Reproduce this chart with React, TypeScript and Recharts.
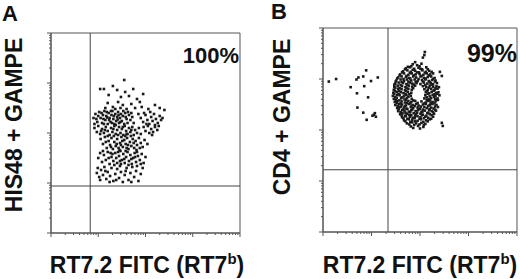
import React from 'react';
import { ScatterChart, Scatter, XAxis, YAxis, ReferenceLine, ReferenceArea } from 'recharts';

// values in log10 decades (axis spans 10^0 .. 10^4)
const his48Points: [number, number][] = [
  [1.04,2.88],[1.12,2.88],[1.31,2.94],[1.55,3.06],[1.40,2.86],[1.57,2.82],[1.74,2.88],[1.95,2.78],[1.82,2.68],[1.48,2.72],[1.22,2.76],[1.65,2.74],
  [1.20,2.60],[1.31,2.52],[1.42,2.62],[1.52,2.56],[1.60,2.48],[1.70,2.58],[1.78,2.50],[1.88,2.62],[2.20,2.56],[2.40,2.46],[2.30,2.50],[1.36,2.48],[1.47,2.50],[1.92,2.52],[2.06,2.48],[1.15,2.50],
  [0.90,2.30],[0.94,2.38],[0.98,2.22],[1.02,2.42],[1.05,2.30],[1.08,2.20],[1.10,2.36],[1.13,2.44],[1.15,2.26],[1.17,2.34],[1.20,2.18],[1.22,2.40],[1.24,2.30],[1.26,2.22],[1.28,2.36],[1.30,2.44],[1.32,2.28],[1.34,2.18],[1.36,2.38],[1.38,2.24],[1.40,2.32],[1.42,2.42],[1.44,2.20],[1.46,2.30],[1.48,2.38],[1.50,2.24],[1.52,2.34],[1.55,2.18],[1.57,2.40],[1.60,2.28],[1.62,2.20],[1.65,2.36],[1.68,2.26],[1.72,2.32],[1.75,2.20],[0.96,2.28],[1.00,2.34],[1.07,2.40],[1.12,2.18],[1.18,2.42],[1.23,2.26],[1.27,2.44],[1.33,2.34],[1.37,2.16],[1.43,2.36],[1.47,2.22],[1.53,2.44],[1.58,2.32],[1.63,2.42],[1.70,2.40],[0.92,2.18],[1.11,2.28],[1.29,2.20],[1.41,2.27],[1.19,2.31],
  [1.90,2.30],[1.95,2.22],[2.00,2.36],[2.04,2.26],[2.08,2.18],[2.12,2.32],[2.15,2.24],[2.18,2.38],[2.22,2.28],[2.26,2.20],[2.30,2.34],[2.33,2.26],[1.97,2.40],[2.10,2.42],[2.20,2.16],[2.02,2.18],[2.36,2.30],[1.85,2.38],
  [0.92,2.10],[0.97,2.02],[1.00,2.14],[1.04,1.98],[1.08,2.08],[1.12,2.00],[1.16,2.12],[1.20,2.04],[1.24,1.96],[1.27,2.10],[1.30,2.02],[1.34,2.14],[1.37,1.98],[1.40,2.06],[1.44,2.12],[1.47,2.00],[1.50,2.08],[1.53,1.96],[1.56,2.14],[1.59,2.04],[1.62,1.98],[1.65,2.10],[1.68,2.02],[1.72,2.12],[1.75,1.96],[1.78,2.06],[1.82,2.00],[1.86,2.10],[1.90,1.98],[1.14,2.06],[1.32,2.08],[1.42,1.96],[1.52,2.12],[1.60,1.98],[1.70,2.06],[1.06,2.04],
  [1.96,2.12],[2.00,2.04],[2.05,2.14],[2.08,2.00],[2.12,2.08],[2.16,2.02],[2.20,2.12],[2.25,2.06],[2.14,1.96],[2.28,2.14],
  [1.05,1.88],[1.10,1.78],[1.14,1.92],[1.18,1.70],[1.22,1.84],[1.25,1.76],[1.28,1.90],[1.31,1.68],[1.34,1.82],[1.37,1.74],[1.40,1.88],[1.43,1.70],[1.46,1.80],[1.49,1.92],[1.52,1.72],[1.55,1.86],[1.58,1.78],[1.61,1.90],[1.64,1.68],[1.67,1.82],[1.70,1.74],[1.73,1.88],[1.76,1.70],[1.79,1.84],[1.82,1.76],[1.86,1.90],[1.90,1.80],[1.94,1.72],[1.98,1.86],[2.04,1.78],[1.20,1.94],[1.33,1.94],[1.45,1.66],[1.57,1.94],[1.69,1.94],[1.81,1.66],[1.39,1.78],[1.51,1.84],[1.63,1.76],[1.75,1.80],[1.27,1.72],[1.88,1.70],[1.60,1.70],[1.48,1.76],[1.16,1.82],
  [1.00,1.50],[1.04,1.60],[1.08,1.42],[1.12,1.56],[1.16,1.46],[1.20,1.62],[1.24,1.38],[1.28,1.52],[1.32,1.44],[1.36,1.60],[1.40,1.40],[1.44,1.54],[1.47,1.64],[1.50,1.46],[1.53,1.58],[1.56,1.40],[1.59,1.52],[1.62,1.62],[1.65,1.44],[1.68,1.56],[1.71,1.38],[1.74,1.50],[1.77,1.60],[1.80,1.42],[1.84,1.54],[1.88,1.46],[1.92,1.58],[1.96,1.40],[2.00,1.52],[1.10,1.64],[1.26,1.60],[1.38,1.50],[1.48,1.38],[1.58,1.64],[1.70,1.48],[1.82,1.62],[1.34,1.36],[1.64,1.36],[1.42,1.62],[1.55,1.48],[1.78,1.52],[1.22,1.50],[1.90,1.38],[1.46,1.44],[1.30,1.58],
  [0.97,1.20],[0.99,1.30],[1.02,1.12],[1.06,1.26],[1.10,1.16],[1.13,1.32],[1.17,1.08],[1.20,1.22],[1.25,1.14],[1.28,1.30],[1.32,1.04],[1.36,1.18],[1.40,1.28],[1.44,1.10],[1.48,1.22],[1.52,1.02],[1.56,1.16],[1.60,1.30],[1.64,1.06],[1.68,1.20],[1.72,1.32],[1.76,1.12],[1.80,1.24],[1.85,1.04],[1.90,1.18],[1.94,1.30],[1.15,1.24],[1.38,1.06],[1.58,1.24],[1.70,1.02],[1.46,1.34],[1.04,1.06],[1.24,1.02],[1.82,1.34],
];

const cd4NegPoints: [number, number][] = [
  [0.12,2.95],[0.27,3.00],[0.57,2.84],[0.69,2.99],[0.73,3.03],[0.83,3.05],[0.89,3.17],[0.99,2.96],[1.13,3.03],[0.85,2.86],
  [0.70,2.72],[0.93,2.64],[0.71,2.44],[0.83,2.34],[0.90,2.20],[1.02,2.28],[1.07,2.33],[1.09,2.26],[1.05,2.30],
];

const cd4Points: [number, number][] = [
  [2.10,3.53],[2.09,3.47],[2.06,3.42],[1.90,3.33],[1.75,3.24],[2.41,3.14],[2.45,3.06],[2.39,2.84],[2.37,2.59],[2.45,2.14],[2.47,2.08],
  [1.85,3.29],[1.94,3.27],[2.03,3.30],
  [1.71,3.21],[1.79,3.23],[1.88,3.20],[1.97,3.22],[2.04,3.19],[2.13,3.23],
  [1.65,3.15],[1.74,3.17],[1.81,3.14],[1.90,3.16],[1.98,3.13],[2.05,3.17],[2.12,3.14],[2.19,3.16],
  [1.59,3.09],[1.67,3.11],[1.76,3.08],[1.83,3.11],[1.91,3.09],[1.99,3.10],[2.07,3.08],[2.14,3.11],[2.21,3.09],[2.27,3.11],
  [1.55,3.03],[1.62,3.05],[1.71,3.04],[1.77,3.02],[1.86,3.05],[1.92,3.03],[2.01,3.05],[2.08,3.02],[2.16,3.04],[2.23,3.05],[2.30,3.02],
  [1.51,2.97],[1.60,2.99],[1.67,2.96],[1.73,2.99],[1.82,2.97],[1.89,2.99],[1.95,2.96],[2.04,2.98],[2.11,2.99],[2.18,2.96],[2.25,2.98],[2.32,2.97],
  [1.49,2.91],[1.56,2.93],[1.65,2.92],[1.72,2.90],[1.79,2.93],[1.84,2.91],[1.93,2.92],[2.01,2.90],[2.08,2.93],[2.15,2.91],[2.22,2.92],[2.27,2.90],[2.35,2.92],
  [1.47,2.85],[1.54,2.87],[1.63,2.86],[1.70,2.84],[1.77,2.87],[1.84,2.85],[1.90,2.87],[2.06,2.86],[2.13,2.84],[2.20,2.87],[2.27,2.85],[2.34,2.86],
  [1.46,2.79],[1.55,2.81],[1.62,2.80],[1.69,2.78],[1.76,2.81],[1.83,2.79],[2.09,2.80],[2.16,2.78],[2.23,2.81],[2.30,2.79],[2.36,2.81],
  [1.45,2.73],[1.52,2.75],[1.61,2.74],[1.66,2.72],[1.75,2.75],[1.82,2.73],[2.12,2.74],[2.19,2.72],[2.24,2.75],[2.33,2.73],[2.38,2.74],
  [1.44,2.67],[1.53,2.69],[1.58,2.68],[1.67,2.66],[1.72,2.69],[1.81,2.67],[2.11,2.68],[2.20,2.66],[2.26,2.69],[2.32,2.67],[2.40,2.68],
  [1.46,2.61],[1.52,2.63],[1.61,2.62],[1.68,2.60],[1.73,2.63],[1.83,2.61],[2.09,2.62],[2.18,2.60],[2.23,2.63],[2.31,2.61],[2.36,2.62],
  [1.48,2.55],[1.53,2.57],[1.62,2.56],[1.69,2.54],[1.76,2.57],[1.82,2.55],[1.90,2.57],[2.03,2.56],[2.12,2.54],[2.17,2.57],[2.26,2.55],[2.32,2.56],
  [1.49,2.49],[1.57,2.51],[1.63,2.50],[1.71,2.48],[1.77,2.51],[1.85,2.49],[1.92,2.51],[1.97,2.48],[2.06,2.50],[2.12,2.51],[2.20,2.49],[2.25,2.51],[2.34,2.49],
  [1.53,2.43],[1.58,2.45],[1.67,2.44],[1.72,2.42],[1.81,2.45],[1.86,2.43],[1.95,2.44],[2.00,2.42],[2.09,2.45],[2.14,2.43],[2.23,2.44],[2.28,2.42],[2.37,2.45],
  [1.55,2.37],[1.63,2.39],[1.68,2.38],[1.77,2.36],[1.82,2.39],[1.91,2.37],[1.96,2.39],[2.05,2.36],[2.10,2.38],[2.19,2.39],[2.24,2.37],[2.33,2.38],
  [1.59,2.31],[1.64,2.33],[1.73,2.32],[1.78,2.30],[1.87,2.33],[1.92,2.31],[2.01,2.32],[2.06,2.30],[2.15,2.33],[2.20,2.31],[2.29,2.32],
  [1.63,2.25],[1.71,2.27],[1.79,2.26],[1.85,2.24],[1.95,2.27],[2.01,2.25],[2.11,2.26],[2.17,2.24],[2.27,2.26],
  [1.67,2.19],[1.77,2.21],[1.84,2.20],[1.95,2.18],[2.02,2.21],[2.13,2.19],[2.20,2.21],
  [1.73,2.13],[1.84,2.15],[1.92,2.13],[2.03,2.14],[2.11,2.12],
  [1.81,2.07],[1.96,2.08],[2.07,2.06],
  // interleaved denser events
  [1.82,3.25],[1.99,3.25],
  [1.69,3.19],[1.85,3.18],[2.01,3.20],[2.16,3.19],
  [1.63,3.13],[1.79,3.12],[1.94,3.13],[2.10,3.12],[2.24,3.14],
  [1.58,3.07],[1.72,3.06],[1.87,3.07],[2.03,3.06],[2.18,3.07],
  [1.53,3.01],[1.66,3.00],[1.80,3.01],[1.97,3.00],[2.12,3.01],[2.27,3.00],
  [1.50,2.95],[1.62,2.94],[1.76,2.95],[1.91,2.94],[2.06,2.95],[2.20,2.94],[2.31,2.95],
  [1.47,2.89],[1.60,2.88],[1.74,2.89],[1.87,2.89],[2.11,2.88],[2.25,2.89],
  [1.49,2.83],[1.58,2.82],[1.72,2.83],[1.86,2.82],[2.18,2.83],[2.32,2.82],
  [1.48,2.77],[1.57,2.76],[1.71,2.77],[2.14,2.76],[2.28,2.77],
  [1.47,2.71],[1.56,2.70],[1.70,2.71],[1.78,2.70],[2.16,2.71],[2.30,2.70],[2.36,2.71],
  [1.49,2.65],[1.63,2.64],[1.76,2.65],[2.14,2.64],[2.29,2.65],
  [1.50,2.59],[1.57,2.58],[1.71,2.59],[1.86,2.58],[2.14,2.59],[2.21,2.58],[2.34,2.59],
  [1.52,2.53],[1.60,2.52],[1.73,2.53],[1.80,2.52],[1.95,2.53],[2.09,2.52],[2.22,2.53],[2.30,2.52],
  [1.54,2.47],[1.61,2.46],[1.69,2.47],[1.82,2.46],[1.89,2.47],[2.02,2.46],[2.17,2.47],[2.31,2.46],
  [1.56,2.41],[1.65,2.40],[1.74,2.41],[1.84,2.40],[1.99,2.41],[2.06,2.40],[2.20,2.41],[2.31,2.40],
  [1.60,2.35],[1.70,2.34],[1.80,2.35],[1.94,2.34],[2.03,2.35],[2.17,2.34],[2.27,2.35],
  [1.62,2.29],[1.69,2.28],[1.82,2.29],[1.90,2.28],[2.04,2.29],[2.13,2.28],[2.24,2.29],
  [1.66,2.23],[1.74,2.22],[1.89,2.23],[1.99,2.22],[2.08,2.23],[2.23,2.22],
  [1.70,2.17],[1.80,2.16],[1.90,2.17],[2.07,2.16],[2.16,2.17],
  [1.78,2.11],[1.88,2.10],[1.99,2.11],[2.08,2.10],
  [1.86,2.04],[2.00,2.03],
];

const panelLetters = ['A', 'B'];
const yAxisTitles = ['HIS48 + GAMPE', 'CD4 + GAMPE'];
const xAxisTitle = 'RT7.2 FITC (RT7';
const xAxisSup = 'b';
const percentLabels = ['100%', '99%'];
const gatesX = [0.83, 1.34];
const gatesY = [0.94, 1.22];

const logTicks: number[] = [];
for (let d = 0; d < 4; d++) for (let k = 1; k < 10; k++) logTicks.push(d + Math.log10(k));
logTicks.push(4);

const isMajor = (v: number) => Math.abs(v - Math.round(v)) < 1e-6;

const YTick = (p: any) => {
  const v = p.payload.value;
  const len = isMajor(v) ? 4 : 2;
  return <line x1={p.x - len} x2={p.x} y1={p.y} y2={p.y} stroke="#555" strokeWidth={1} />;
};
const XTick = (p: any) => {
  const v = p.payload.value;
  const len = isMajor(v) ? 4 : 2;
  return <line x1={p.x} x2={p.x} y1={p.y} y2={p.y + len} stroke="#555" strokeWidth={1} />;
};

const Dot = (p: any) => (
  <rect x={p.cx - 1.3} y={p.cy - 1.3} width={2.6} height={2.6} fill="#1a1a1a" />
);

const toData = (pts: [number, number][]) => pts.map(([x, y]) => ({ x, y }));

function Panel(props: { left: number; margin: any; sets: [number, number][][]; gx: number; gy: number }) {
  return (
    <div style={{ position: 'absolute', left: props.left, top: 0 }}>
      <ScatterChart width={250} height={279} margin={props.margin}>
        <XAxis type="number" dataKey="x" domain={[0, 4]} ticks={logTicks} interval={0} tick={<XTick />}
          tickLine={false} tickSize={0} tickMargin={0} height={10} axisLine={{ stroke: '#555' }} allowDataOverflow />
        <YAxis type="number" dataKey="y" domain={[0, 4]} ticks={logTicks} interval={0} tick={<YTick />}
          tickLine={false} tickSize={0} tickMargin={0} width={10} axisLine={{ stroke: '#555' }} allowDataOverflow />
        <ReferenceArea x1={0} x2={4} y1={0} y2={4} fill="none" fillOpacity={0} stroke="#555" strokeWidth={1} />
        <ReferenceLine x={props.gx} stroke="#444" strokeWidth={1} />
        <ReferenceLine y={props.gy} stroke="#444" strokeWidth={1} />
        {props.sets.map((s, i) => (
          <Scatter key={i} data={toData(s)} shape={<Dot />} isAnimationActive={false} />
        ))}
      </ScatterChart>
    </div>
  );
}

export default function App() {
  const font = "'Liberation Sans', Arial, sans-serif";
  return (
    <div style={{ position: 'fixed', left: 0, top: 0, width: 520, height: 279, background: '#fff', overflow: 'hidden' }}>
      <Panel left={0} margin={{ top: 33, right: 10, bottom: 36, left: 41 }} sets={[his48Points]} gx={gatesX[0]} gy={gatesY[0]} />
      <Panel left={270} margin={{ top: 28, right: 3, bottom: 37, left: 43 }} sets={[cd4NegPoints, cd4Points]} gx={gatesX[1]} gy={gatesY[1]} />
      <svg width={520} height={279} style={{ position: 'absolute', left: 0, top: 0, pointerEvents: 'none' }}
        fontFamily={font} fontWeight="bold" fill="#111">
        <text x={2} y={21} fontSize={22}>{panelLetters[0]}</text>
        <text x={271} y={19} fontSize={22}>{panelLetters[1]}</text>
        <text x={239} y={63} fontSize={22} textAnchor="end">{percentLabels[0]}</text>
        <text x={517} y={62} fontSize={25} textAnchor="end">{percentLabels[1]}</text>
        <text transform="translate(22,125) rotate(-90)" fontSize={23} textAnchor="middle">{yAxisTitles[0]}</text>
        <text transform="translate(290,117) rotate(-90)" fontSize={23} textAnchor="middle">{yAxisTitles[1]}</text>
        <text x={147} y={273} fontSize={23} textAnchor="middle">
          {xAxisTitle}<tspan dy={-9} fontSize={15}>{xAxisSup}</tspan><tspan dy={9} fontSize={23}>)</tspan>
        </text>
        <text x={420} y={273} fontSize={23} textAnchor="middle">
          {xAxisTitle}<tspan dy={-9} fontSize={15}>{xAxisSup}</tspan><tspan dy={9} fontSize={23}>)</tspan>
        </text>
      </svg>
    </div>
  );
}
